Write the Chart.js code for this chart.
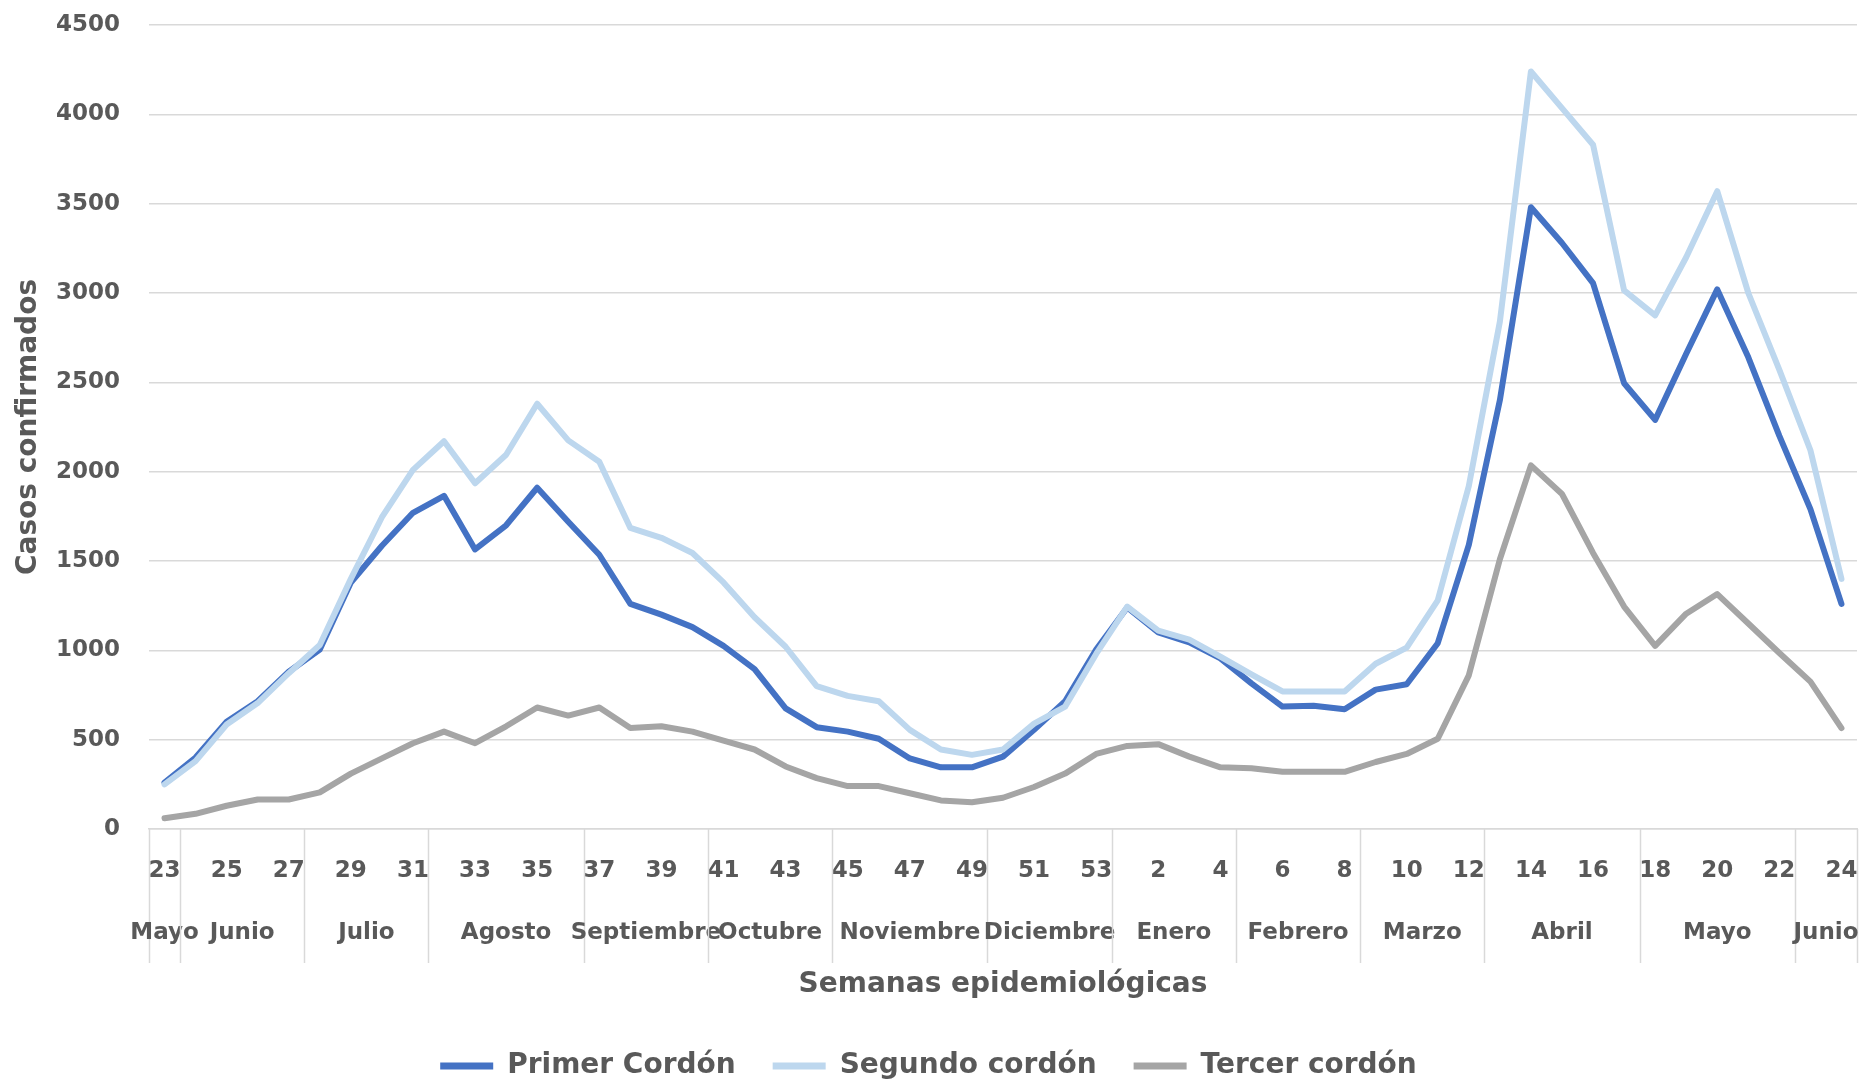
<!DOCTYPE html>
<html>
<head>
<meta charset="utf-8">
<script src="https://cdn.jsdelivr.net/npm/chart.js@4/dist/chart.umd.min.js"></script>
<style>
  html, body { margin: 0; padding: 0; background: #ffffff; }
  #wrap { width: 1862px; height: 1082px; }
</style>
</head>
<body>
<div id="wrap"><canvas id="chart" width="1862" height="1082"></canvas></div>
<script>
// ---- Data ----
const weeks = ['23','24','25','26','27','28','29','30','31','32','33','34','35','36','37','38','39','40','41','42','43','44','45','46','47','48','49','50','51','52','53',
               '1','2','3','4','5','6','7','8','9','10','11','12','13','14','15','16','17','18','19','20','21','22','23','24'];
const monthNames = ['Mayo','Junio','Julio','Agosto','Septiembre','Octubre','Noviembre','Diciembre','Enero','Febrero','Marzo','Abril','Mayo','Junio'];
const monthSpans = [1,4,4,5,4,4,5,4,4,4,4,5,5,2];

const primerCordon = [260,400,600,715,880,1005,1380,1585,1770,1865,
                      1565,1700,1910,1720,1535,1260,1200,1130,1025,895,
                      675,570,545,505,395,345,345,405,555,715,
                      1005,1240,1100,1045,955,815,685,690,670,780,
                      810,1040,1590,2400,3480,3280,3055,2495,2290,2660,
                      3020,2640,2200,1790,1260];
const segundoCordon = [250,380,585,705,872,1030,1400,1745,2010,2170,
                       1935,2095,2380,2175,2055,1685,1630,1545,1380,1185,
                       1020,800,745,715,555,445,415,445,590,685,
                       980,1245,1110,1060,965,865,770,770,770,925,
                       1015,1280,1920,2840,4240,4035,3830,3015,2875,3200,
                       3570,3000,2570,2120,1400];
const tercerCordon = [60,85,130,165,165,205,310,395,480,545,
                      480,575,680,635,680,565,575,545,495,445,
                      350,285,240,240,200,160,150,175,235,310,
                      420,465,475,405,345,340,320,320,320,375,
                      420,505,860,1510,2035,1875,1545,1245,1025,1205,
                      1315,1150,985,825,565];

const seriesNames = ['Primer Cordón','Segundo cordón','Tercer cordón'];
const yTitle = 'Casos confirmados';
const xTitle = 'Semanas epidemiológicas';

// ---- Styles ----
const FONT = "'DejaVu Sans', sans-serif";
const TEXT = '#595959';
const GRID = '#d9d9d9';
const CLEAR = 'rgba(0,0,0,0)';
const COLORS = ['#4472C4', '#BDD7EE', '#A5A5A5'];

// Month group labels + separators (multi-level category axis)
const monthAxis = {
  id: 'monthAxis',
  afterDraw(chart) {
    const xs = chart.scales.x;
    const area = chart.chartArea;
    const ctx = chart.ctx;
    const last = weeks.length - 1;
    const lineTop = area.bottom;
    const lineBottom = area.bottom + 134;
    const textY = area.bottom + 104;
    ctx.save();
    ctx.strokeStyle = GRID;
    ctx.lineWidth = 1.5;
    ctx.fillStyle = TEXT;
    ctx.font = "bold 23px " + FONT;
    ctx.textAlign = 'center';
    ctx.textBaseline = 'middle';
    let start = 0;
    const drawSep = (x) => {
      ctx.beginPath();
      ctx.moveTo(Math.round(x) + 0.5, lineTop);
      ctx.lineTo(Math.round(x) + 0.5, lineBottom);
      ctx.stroke();
    };
    monthSpans.forEach((span, g) => {
      const end = start + span - 1;
      const left = start === 0 ? area.left : (xs.getPixelForValue(start - 1) + xs.getPixelForValue(start)) / 2;
      const right = end === last ? area.right : (xs.getPixelForValue(end) + xs.getPixelForValue(end + 1)) / 2;
      drawSep(left);
      if (end === last) drawSep(right);
      const cx = (xs.getPixelForValue(start) + xs.getPixelForValue(end)) / 2;
      ctx.fillText(monthNames[g], cx, textY);
      start = end + 1;
    });
    ctx.restore();
  }
};

const makeSet = (label, data, color, order) => ({
  label, data,
  borderColor: color,
  backgroundColor: color,
  borderWidth: 6,
  pointRadius: 0,
  pointHoverRadius: 0,
  tension: 0,
  fill: false,
  borderCapStyle: 'round',
  borderJoinStyle: 'round',
  order
});

new Chart(document.getElementById('chart'), {
  type: 'line',
  data: {
    labels: weeks,
    datasets: [
      makeSet(seriesNames[0], primerCordon, COLORS[0], 2),
      makeSet(seriesNames[1], segundoCordon, COLORS[1], 1),
      makeSet(seriesNames[2], tercerCordon, COLORS[2], 0)
    ]
  },
  options: {
    responsive: false,
    animation: false,
    devicePixelRatio: 1,
    layout: { padding: { top: 25, right: 5, bottom: -8, left: 0 } },
    plugins: {
      tooltip: { enabled: false },
      legend: {
        position: 'bottom',
        labels: {
          font: { family: FONT, size: 28, weight: 'bold' },
          color: TEXT,
          boxWidth: 53,
          boxHeight: 7,
          padding: 37,
          sort: (a, b) => a.datasetIndex - b.datasetIndex,
          generateLabels: (chart) => Chart.defaults.plugins.legend.labels.generateLabels(chart)
            .map(l => Object.assign(l, { lineWidth: 0 }))
        }
      }
    },
    scales: {
      x: {
        type: 'category',
        offset: true,
        grid: { display: true, drawOnChartArea: false, color: CLEAR, tickColor: CLEAR, drawTicks: true, tickLength: 28 },
        border: { display: true, color: GRID, width: 1.5 },
        ticks: {
          autoSkip: false,
          maxRotation: 0,
          padding: 0,
          color: TEXT,
          font: { family: FONT, size: 23, weight: 'bold' },
          callback: function (value, index) { return index % 2 === 0 ? weeks[index] : ''; }
        },
        title: {
          display: true,
          text: xTitle,
          color: TEXT,
          font: { family: FONT, size: 28, weight: 'bold' },
          padding: { top: 0, bottom: 13 }
        },
        afterFit: (scale) => { scale.height = 186; }
      },
      y: {
        min: 0,
        max: 4500,
        ticks: {
          stepSize: 500,
          padding: 0,
          color: TEXT,
          font: { family: FONT, size: 23, weight: 'bold' },
          callback: (value) => String(value)
        },
        grid: { color: GRID, lineWidth: 1.5, drawTicks: true, tickLength: 29, tickColor: CLEAR },
        border: { display: false },
        title: {
          display: true,
          text: yTitle,
          color: TEXT,
          font: { family: FONT, size: 28, weight: 'bold' },
          padding: { top: 12, bottom: 0 }
        },
        afterFit: (scale) => { scale.width = 149; }
      }
    }
  },
  plugins: [monthAxis]
});
</script>
</body>
</html>
